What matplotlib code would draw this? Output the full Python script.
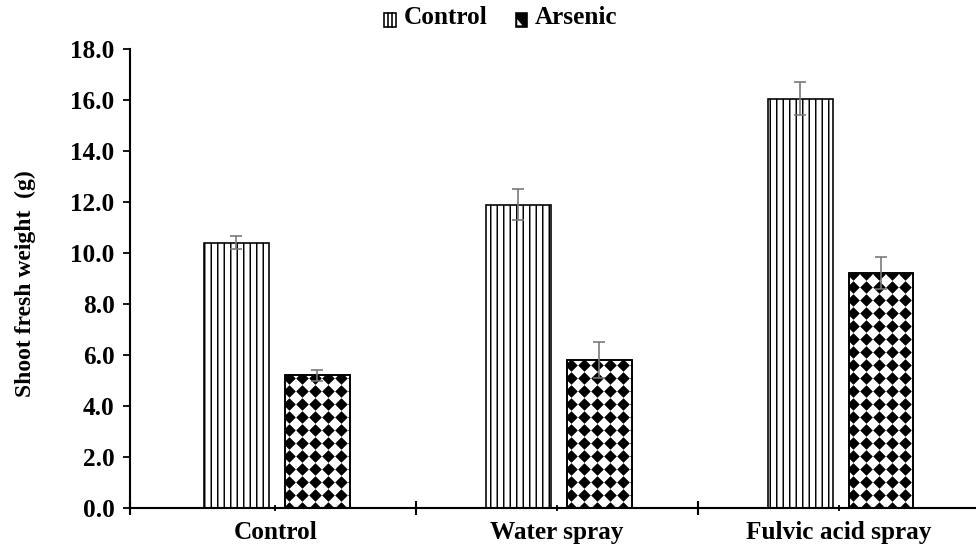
import matplotlib
matplotlib.use("Agg")
import matplotlib.pyplot as plt
import numpy as np
from matplotlib.patches import Rectangle, Polygon
from matplotlib.lines import Line2D
from matplotlib.legend_handler import HandlerBase

categories = ["Control", "Water spray", "Fulvic acid spray"]
series_names = ["Control", "Arsenic"]
control_vals = [10.4, 11.9, 16.05]
control_err = [0.25, 0.6, 0.65]
arsenic_vals = [5.2, 5.8, 9.2]
arsenic_err = [0.2, 0.7, 0.63]
yticks = [0, 2, 4, 6, 8, 10, 12, 14, 16, 18]

DPI = 117
W, H = 976, 553
plt.rcParams['font.family'] = ['Liberation Serif', 'DejaVu Serif']
plt.rcParams['hatch.linewidth'] = 0.9

fig = plt.figure(figsize=(W / DPI, H / DPI), dpi=DPI)
ax = fig.add_axes([130 / W, 1 - 508 / H, 850 / W, 459 / H])
X0 = -0.015
ax.set_xlim(X0, 3)
ax.set_ylim(0, 18)

x = np.arange(len(categories)) + 0.5
w = 0.23
xc = x - 0.138
xa = x + 0.149

b1 = ax.bar(xc, control_vals, w, color='white', edgecolor='black', hatch='|||', linewidth=1.0, zorder=2)
b2 = ax.bar(xa, arsenic_vals, w, color='white', edgecolor='black', linewidth=1.0, zorder=2)

# rotated checkerboard (black diamonds) clipped inside arsenic bars
step = 13.0  # pixels
for rect in b2:
    (px0, py0) = ax.transData.transform((rect.get_x(), 0))
    (px1, py1) = ax.transData.transform((rect.get_x() + rect.get_width(), rect.get_height()))
    gx = np.arange(px0 + 4, px1 + step, step)
    gy = np.arange(py0, py1 + step, step)
    GX, GY = np.meshgrid(gx, gy)
    pts = ax.transData.inverted().transform(np.column_stack([GX.ravel(), GY.ravel()]))
    ms = step / np.sqrt(2) * 72 / DPI * 0.97
    sc = ax.scatter(pts[:, 0], pts[:, 1], marker='D', s=ms ** 2, color='black', linewidths=0, zorder=2.5)
    sc.set_clip_path(rect)
    ax.add_patch(Rectangle((rect.get_x(), 0), rect.get_width(), rect.get_height(), fill=False,
                           edgecolor='black', linewidth=1.0, zorder=3))

ax.errorbar(xc, control_vals, yerr=control_err, fmt='none', ecolor='#777777', elinewidth=1.0,
            capsize=3.6, capthick=1.0, zorder=4)
ax.errorbar(xa, arsenic_vals, yerr=arsenic_err, fmt='none', ecolor='#777777', elinewidth=1.0,
            capsize=3.6, capthick=1.0, zorder=4)

ax.set_yticks(yticks)
ax.set_yticklabels([f"{v:.1f}" for v in yticks], fontsize=15.5, fontweight='bold')
ax.set_xticks([X0, 1, 2, 3])
ax.set_xticklabels([])
ax.set_xticks(x, minor=True)
ax.set_xticklabels(categories, minor=True, fontsize=15.5, fontweight='bold')
ax.tick_params(axis='x', which='minor', direction='inout', length=4, width=1.1, pad=6)
ax.tick_params(axis='x', which='major', direction='inout', length=9, width=1.3)
ax.tick_params(axis='y', direction='out', length=4.5, width=1.1, pad=5)
for s in ['top', 'right']:
    ax.spines[s].set_visible(False)
for s in ['left', 'bottom']:
    ax.spines[s].set_linewidth(1.3)

fig.text(25 / W, 1 - 284 / H, "Shoot fresh weight  (g)", rotation=90, ha='center', va='center',
         fontsize=14.5, fontweight='bold')


class CtrlHandler(HandlerBase):
    def create_artists(self, legend, orig, xd, yd, width, height, fontsize, trans):
        r = Rectangle((xd, yd), width, height, facecolor='white', edgecolor='black', lw=1.0, transform=trans)
        l1 = Line2D([xd + width / 3, xd + width / 3], [yd, yd + height], color='black', lw=1.0, transform=trans)
        l2 = Line2D([xd + 2 * width / 3, xd + 2 * width / 3], [yd, yd + height], color='black', lw=1.0, transform=trans)
        return [r, l1, l2]


class ArsHandler(HandlerBase):
    def create_artists(self, legend, orig, xd, yd, width, height, fontsize, trans):
        r = Rectangle((xd, yd), width, height, facecolor='black', edgecolor='black', lw=1.0, transform=trans)
        p = Polygon([(xd + width * 0.1, yd + height * 0.1), (xd + width * 0.55, yd + height * 0.1),
                     (xd + width * 0.1, yd + height * 0.55)], closed=True, facecolor='white',
                    edgecolor='none', transform=trans)
        return [r, p]


hc = Rectangle((0, 0), 1, 1)
ha = Polygon([(0, 0), (1, 0), (0, 1)])
leg = fig.legend([hc, ha], series_names, loc='center', bbox_to_anchor=(501 / W, 1 - 18 / H), ncol=2,
                 frameon=False, prop={'weight': 'bold', 'size': 15.5}, handlelength=0.45, handleheight=0.45,
                 handletextpad=0.3, columnspacing=1.15,
                 handler_map={hc: CtrlHandler(), ha: ArsHandler()})

fig.savefig("out.png", dpi=DPI)
